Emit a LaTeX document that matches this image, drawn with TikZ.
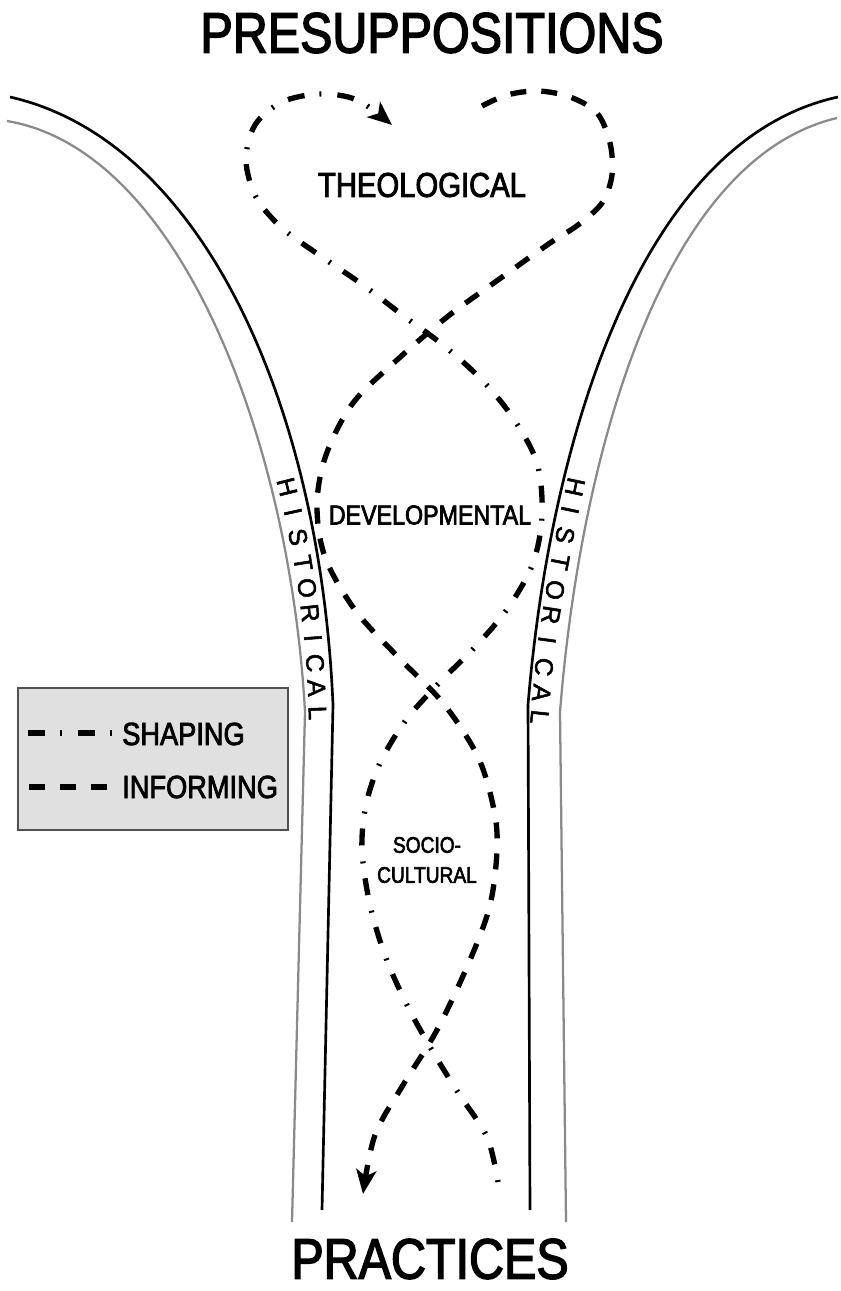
\documentclass[tikz,border=0pt]{standalone}
\usepackage{fontspec}
\setmainfont{Liberation Sans}
\newfontfamily\condfont{Liberation Sans}[FakeStretch=0.85, FakeBold=2.5]
\newfontfamily\histfont{Liberation Sans}[FakeBold=2]
\usetikzlibrary{arrows.meta}
\definecolor{wallgray}{HTML}{8A8A8A}
\definecolor{boxfill}{HTML}{E0E0E0}
\definecolor{boxline}{HTML}{505050}

\begin{document}
\begin{tikzpicture}[x=0.75pt,y=-0.75pt,
  wall/.style={line width=2pt, black},
  outerwall/.style={line width=1.7pt, wallgray},
  shaping/.style={line width=4pt, dash pattern=on 12.75pt off 11.25pt on 1.5pt off 12pt},
  informing/.style={line width=4pt, dash pattern=on 12pt off 11.25pt},
  headtip/.style={-{Stealth[length=18pt,width=15pt,inset=4.5pt]}},
  title/.style={inner sep=0pt, font=\condfont\fontsize{42.75pt}{44pt}\selectfont},
  theo/.style={inner sep=0pt, font=\condfont\fontsize{25.8pt}{27pt}\selectfont},
  devel/.style={inner sep=0pt, font=\condfont\fontsize{20.5pt}{22pt}\selectfont},
  socio/.style={inner sep=0pt, align=center, font=\condfont\fontsize{16.9pt}{22.5pt}\selectfont},
  legtext/.style={inner sep=0pt, font=\condfont\fontsize{24pt}{26pt}\selectfont},
  hist/.style={inner sep=0pt, font=\histfont\fontsize{19pt}{20pt}\selectfont},
  legendbox/.style={draw=boxline, fill=boxfill, line width=1pt, minimum width=202.5pt, minimum height=106.5pt, inner sep=0pt}
]
\useasboundingbox (0,0) rectangle (841,1291);

% funnel walls: inner black lines, outer grey lines
\draw[wall] (10,97) .. controls (200,140) and (320,400) .. (333,705) -- (322,1210);
\draw[outerwall] (7,121) .. controls (180,150) and (290,440) .. (305,712) -- (292,1222);
\draw[wall] (838,97) .. controls (640,140) and (550,440) .. (528,705) -- (530,1210);
\draw[outerwall] (837,118) .. controls (660,160) and (580,460) .. (560,712) -- (566,1222);

% titles
\node[title] (presup) at (432,33) {PRESUPPOSITIONS};
\node[title] (pract) at (430,1259) {PRACTICES};

% domain labels
\node[theo] (theol) at (422,185) {THEOLOGICAL};
\node[devel] (devel) at (430,515) {DEVELOPMENTAL};
\node[socio] (socio) at (427,860) {SOCIO-\\CULTURAL};

% historical labels following the walls
\foreach \ch/\xx/\yy/\rr [count=\i] in {H/287/487/-76, I/293/512/-77.5, S/298/537/-79, T/303/563/-81, O/307/588/-82.5, R/310/613/-84, I/313/638/-85.5, C/315/663/-86.5, A/316.5/688/-87.5, L/317.5/713/-88}
  \node[hist, rotate=\rr] (histL\i) at (\xx,\yy) {\ch};
\foreach \ch/\xx/\yy/\rr [count=\i] in {H/575/487/-102, I/570/510/-102, S/565/535/-101, T/560/562/-101, O/555/590/-100, R/551/615/-99, I/547/640/-98, C/544/667/-97.5, A/541.5/693/-97, L/539.5/717/-96}
  \node[hist, rotate=\rr] (histR\i) at (\xx,\yy) {\ch};

% shaping strand (dash-dot), from the bottom up to the top loop
\draw[shaping, dash phase=24pt, headtip] plot[smooth, tension=0.55] coordinates {
  (498,1182) (487,1137) (459,1094) (433,1052) (408,1007) (386,958) (370,905)
  (362,850) (366,805) (380,763) (406,720) (440,682) (475,647) (508,608)
  (533,563) (542,515) (537,463) (513,418) (482,380) (443,345) (405,317)
  (363,285) (322,257) (282,228) (256,197) (246,160) (255,125) (282,102)
  (320,94) (357,100) (392,125)};

% informing strand (dashed), from the top loop down to the bottom
\draw[informing, headtip] plot[smooth, tension=0.55] coordinates {
  (482,106) (507,95) (538,91) (570,97) (597,113) (610,143) (612,175)
  (602,203) (578,225) (550,243) (498,280) (447,317) (397,360) (353,403)
  (326,455) (317,505) (325,557) (355,610) (398,657) (443,703) (478,757)
  (494,810) (497,850) (490,905) (470,960) (437,1030) (403,1085) (375,1135)
  (363,1194)};

% legend
\node[legendbox] (legend) at (153,759) {};
\coordinate (shapeA) at (28,733);
\coordinate (shapeB) at (113,733);
\coordinate (informA) at (29,787);
\coordinate (informB) at (108,787);
\draw[shaping] (shapeA) -- (shapeB);
\draw[informing] (informA) -- (informB);
\node[legtext, anchor=base west] (shapelbl) at (122,745) {SHAPING};
\node[legtext, anchor=base west] (informlbl) at (122,798) {INFORMING};
\end{tikzpicture}
\end{document}
